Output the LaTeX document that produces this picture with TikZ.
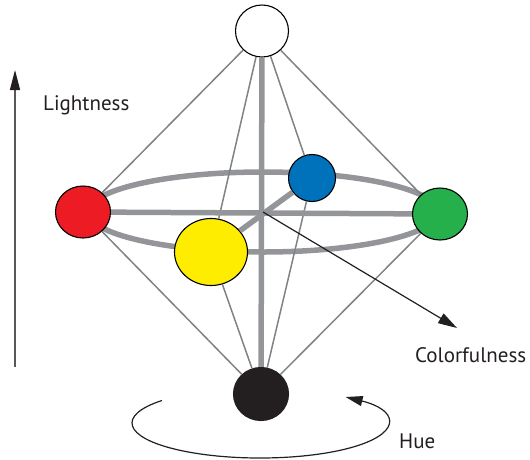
\documentclass[tikz,border=0pt]{standalone}
\usepackage{fontspec}
\setmainfont{PT Sans}
\usetikzlibrary{calc, arrows.meta, shapes.geometric}

\definecolor{ink}{RGB}{35,31,32}
\definecolor{rodgray}{RGB}{147,149,152}
\definecolor{wiregray}{RGB}{128,130,133}
\definecolor{hred}{RGB}{237,28,36}
\definecolor{hgreen}{RGB}{38,176,75}
\definecolor{hblue}{RGB}{0,114,188}
\definecolor{hyellow}{RGB}{255,237,0}

\begin{document}
\begin{tikzpicture}[x=1pt, y=-1pt,
        ball/.style={ellipse, draw=black, line width=1.1pt, inner sep=0pt},
        rod/.style={rodgray, line width=5.5pt},
        wire/.style={wiregray, line width=1.5pt},
        pointer/.style={ink, line width=1.2pt, -{Triangle[length=19pt, width=11pt]}},
        axislabel/.style={text=ink, inner sep=0pt, anchor=base west, font=\fontsize{21}{25}\selectfont}]
        \useasboundingbox (0,0) rectangle (530,459);

        \coordinate (O) at (263,212);
        \coordinate (Lbot) at (15,367);
        \coordinate (Ltop) at (15,70);
        \coordinate (Ctip) at (457,328);
        \coordinate (Hc) at (260,423);
        \coordinate (Hs) at ($(Hc)+(220:128 and 35)$);

        \draw[rod] (O) ellipse [x radius=175, y radius=40];

        \node[ball, fill=white, minimum width=53pt, minimum height=52pt] (W) at (262,31) {};
        \node[ball, fill=ink, draw=ink, minimum width=55pt, minimum height=53pt] (K) at (261,394) {};
        \node[ball, fill=hred, minimum width=55pt, minimum height=52pt] (R) at (83,212) {};
        \node[ball, fill=hgreen, minimum width=55pt, minimum height=52pt] (G) at (440,214) {};
        \node[ball, fill=hblue, minimum width=47pt, minimum height=47pt] (B) at (312,178) {};
        \node[ball, fill=hyellow, minimum width=73pt, minimum height=67pt] (Y) at (211,252) {};

        \draw[wire] (W) -- (R);
        \draw[wire] (W) -- (Y);
        \draw[wire] (W) -- (B);
        \draw[wire] (W) -- (G);
        \draw[wire] (K) -- (R);
        \draw[wire] (K) -- (Y);
        \draw[wire] (K) -- (B);
        \draw[wire] (K) -- (G);

        \draw[rod] (W) -- (K);
        \draw[rod] (R) -- (G);
        \draw[rod] (Y) -- (B);

        \draw[pointer] (O) -- (Ctip);
        \draw[ink!75, line width=1.3pt, -{Triangle[length=20pt, width=10pt, color=ink]}] (Lbot) -- (Ltop);
        \draw[pointer, -{Triangle[length=17pt, width=10pt]}] (Hs) arc[start angle=220, end angle=-48, x radius=128, y radius=35];

        \node[axislabel] (light) at (43,110) {Lightness};
        \node[axislabel] (colorful) at (415,362) {Colorfulness};
        \node[axislabel] (hue) at (399,448) {Hue};
\end{tikzpicture}
\end{document}
